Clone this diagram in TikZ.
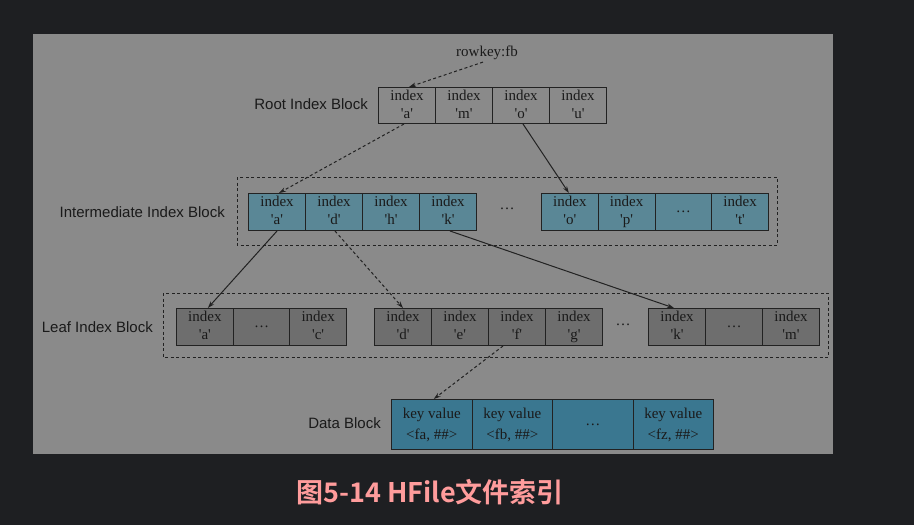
\documentclass[tikz,border=0pt]{standalone}
\usepackage{fontspec}
\setmainfont{Liberation Serif}
\setsansfont{Liberation Sans}
\newfontfamily\cjk{Noto Sans CJK SC}[BoldFont={Noto Sans CJK SC Bold}]
\usetikzlibrary{arrows.meta,calc}
\definecolor{bgdark}{HTML}{1E1F22}
\definecolor{panel}{HTML}{8A8A8A}
\definecolor{rootfill}{HTML}{8A8A8A}
\definecolor{interfill}{HTML}{5A8796}
\definecolor{leaffill}{HTML}{6E6E6E}
\definecolor{datafill}{HTML}{3A7790}
\definecolor{linec}{HTML}{222222}
\definecolor{txt}{HTML}{1A1A1A}
\definecolor{capc}{HTML}{FF9C9C}
\newcommand{\qq}[1]{\textquotesingle#1\textquotesingle}
\newcommand{\ix}[1]{\strut index\\\strut\qq{#1}}
\begin{document}
\begin{tikzpicture}[x=1pt,y=-1pt,
  cellbox/.style={draw=linec, line width=1pt, anchor=north west, inner sep=0pt, align=center,
    text=txt, font=\fontsize{15}{18}\selectfont},
  rootc/.style={cellbox, fill=rootfill, minimum height=36pt, minimum width=57pt},
  interc/.style={cellbox, fill=interfill, minimum height=37pt},
  leafc/.style={cellbox, fill=leaffill, minimum height=37pt},
  datac/.style={cellbox, fill=datafill, minimum height=50pt, minimum width=80.5pt, font=\fontsize{15}{21}\selectfont},
  blocklabel/.style={anchor=east, inner sep=0pt, text=txt, font=\sffamily\fontsize{15}{17}\selectfont},
  groupbox/.style={draw=linec, line width=1pt, dash pattern=on 3pt off 2.5pt},
  dots/.style={inner sep=0pt, text=txt, font=\fontsize{15}{17}\selectfont},
  link/.style={draw=linec, line width=1pt, -{Stealth[length=7pt,width=4.5pt]}},
  dlink/.style={link, dash pattern=on 3pt off 2.5pt}
]
\useasboundingbox (0,0) rectangle (914,525);
\fill[bgdark] (0,0) rectangle (914,525);
\fill[panel] (33,34) rectangle (833,454);

% Root
\node[blocklabel] (rootlbl) at (368,104) {Root Index Block};
\node[inner sep=0pt, text=txt, font=\fontsize{15}{17}\selectfont] (rowkey) at (487,53) {rowkey:fb};
\node[rootc] (r1) at (378,87) {\ix{a}};
\node[rootc] (r2) at (435,87) {\ix{m}};
\node[rootc] (r3) at (492,87) {\ix{o}};
\node[rootc] (r4) at (549,87) {\ix{u}};

% Intermediate
\draw[groupbox] (237,177) rectangle (777,245);
\node[blocklabel] (interlbl) at (225,212) {Intermediate Index Block};
\node[interc, minimum width=57pt] (i1) at (248,193) {\ix{a}};
\node[interc, minimum width=57pt] (i2) at (305,193) {\ix{d}};
\node[interc, minimum width=57pt] (i3) at (362,193) {\ix{h}};
\node[interc, minimum width=57pt] (i4) at (419,193) {\ix{k}};
\node[dots] (idots) at (507,209) {\dots};
\node[interc, minimum width=56.75pt] (i5) at (541,193) {\ix{o}};
\node[interc, minimum width=56.75pt] (i6) at (597.75,193) {\ix{p}};
\node[interc, minimum width=56.75pt] (i7) at (654.5,193) {\dots};
\node[interc, minimum width=56.75pt] (i8) at (711.25,193) {\ix{t}};

% Leaf
\draw[groupbox] (163,293) rectangle (828,357);
\node[blocklabel] (leaflbl) at (153,327) {Leaf Index Block};
\node[leafc, minimum width=56.67pt] (l1) at (176,308) {\ix{a}};
\node[leafc, minimum width=56.67pt] (l2) at (232.67,308) {\dots};
\node[leafc, minimum width=56.67pt] (l3) at (289.33,308) {\ix{c}};
\node[leafc, minimum width=57pt] (l4) at (374,308) {\ix{d}};
\node[leafc, minimum width=57pt] (l5) at (431,308) {\ix{e}};
\node[leafc, minimum width=57pt] (l6) at (488,308) {\ix{f}};
\node[leafc, minimum width=57pt] (l7) at (545,308) {\ix{g}};
\node[dots] (ldots) at (623,325) {\dots};
\node[leafc, minimum width=57pt] (l8) at (648,308) {\ix{k}};
\node[leafc, minimum width=57pt] (l9) at (705,308) {\dots};
\node[leafc, minimum width=57pt] (l10) at (762,308) {\ix{m}};

% Data
\node[blocklabel] (datalbl) at (381,423) {Data Block};
\node[datac] (d1) at (391,399) {key value\\<fa, \#\#>};
\node[datac] (d2) at (471.5,399) {key value\\<fb, \#\#>};
\node[datac] (d3) at (552,399) {\dots};
\node[datac] (d4) at (632.5,399) {key value\\<fz, \#\#>};

% Connectors
\draw[dlink] ($(rowkey.south)+(-4,2)$) -- ($(r1.north)+(2,0)$);
\draw[dlink] ($(r1.south)+(-3,0)$) -- ($(i1.north)+(2,0)$);
\draw[link] ($(r3.south)+(2,0)$) -- ($(i5.north)+(-1,0)$);
\draw[link] (i1.south) -- ($(l1.north)+(3,0)$);
\draw[dlink] ($(i2.south)+(1,0)$) -- (l4.north);
\draw[link] ($(i4.south)+(2,0)$) -- ($(l8.north)+(-3,0)$);
\draw[dlink] ($(l6.south)+(-14,0)$) -- ($(d1.north)+(2,0)$);

% Caption
\node[inner sep=0pt, text=capc, font=\cjk\bfseries\fontsize{27}{30}\selectfont] (caption) at (430,492) {图5-14 HFile文件索引};
\end{tikzpicture}
\end{document}
